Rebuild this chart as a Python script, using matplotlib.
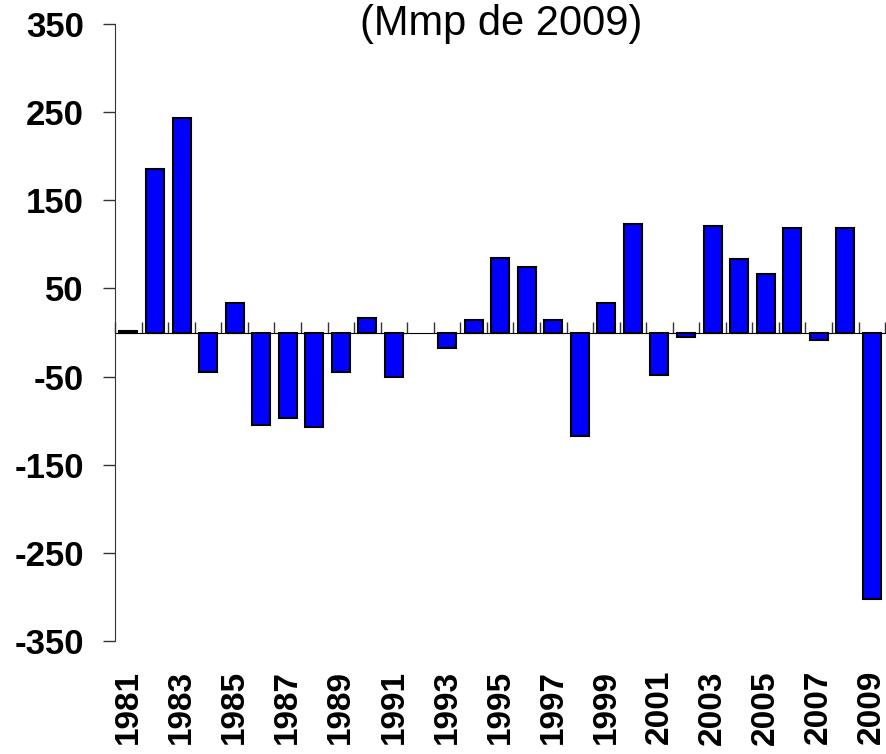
import numpy as np
import matplotlib
matplotlib.use("Agg")
import matplotlib.pyplot as plt

years = list(range(1981, 2010))
values = [2, 186, 244, -45, 33, -105, -97, -107, -45, 17,
          -50, 0, -18, 14, 85, 74, 14, -118, 33, 123,
          -48, -5, 121, 83, 66, 119, -9, 119, -303]
yticks = [-350, -250, -150, -50, 50, 150, 250, 350]
title = "(Mmp de 2009)"

plt.rcParams['font.family'] = ['Liberation Sans', 'DejaVu Sans']

fig = plt.figure(figsize=(8.86, 7.54), dpi=100)
ax = fig.add_axes([0.13, 0.15, 0.869, 0.818])

x = np.arange(len(years))
vals = np.array(values, dtype=float)
# a zero value has no visible bar in the original
show = vals != 0
ax.bar(x[show], vals[show], width=0.68, color='#0000FF', edgecolor='black', linewidth=1.5, zorder=3)

ax.set_xlim(-0.5, len(years) - 0.5)
ax.set_ylim(-350, 350)
ax.set_yticks(yticks)
ax.set_yticklabels([str(v) for v in yticks], fontsize=25, fontweight='bold')
ax.tick_params(axis='y', length=8.5, width=1, direction='out', pad=14, colors='#333333', labelcolor='black')

for s in ['top', 'right', 'bottom']:
    ax.spines[s].set_visible(False)
ax.spines['left'].set_color('#333333')

# year labels below the plot (odd years only)
ax.set_xticks(x[::2])
ax.set_xticklabels([str(y) for y in years[::2]], rotation=90, fontsize=24, fontweight='bold')
ax.tick_params(axis='x', length=0, pad=21)

# zero line with category boundary ticks
zero = ax.secondary_xaxis(0.5)
zero.set_xticks(np.arange(-0.5, len(years), 1.0))
zero.set_xticklabels([])
zero.tick_params(axis='x', length=8, width=1, direction='out', colors='#333333')
zero.spines['bottom'].set_color('#555555')

fig.text(0.566, 0.968, title, ha='center', va='center', fontsize=30)

fig.savefig("out.png", dpi=100)
